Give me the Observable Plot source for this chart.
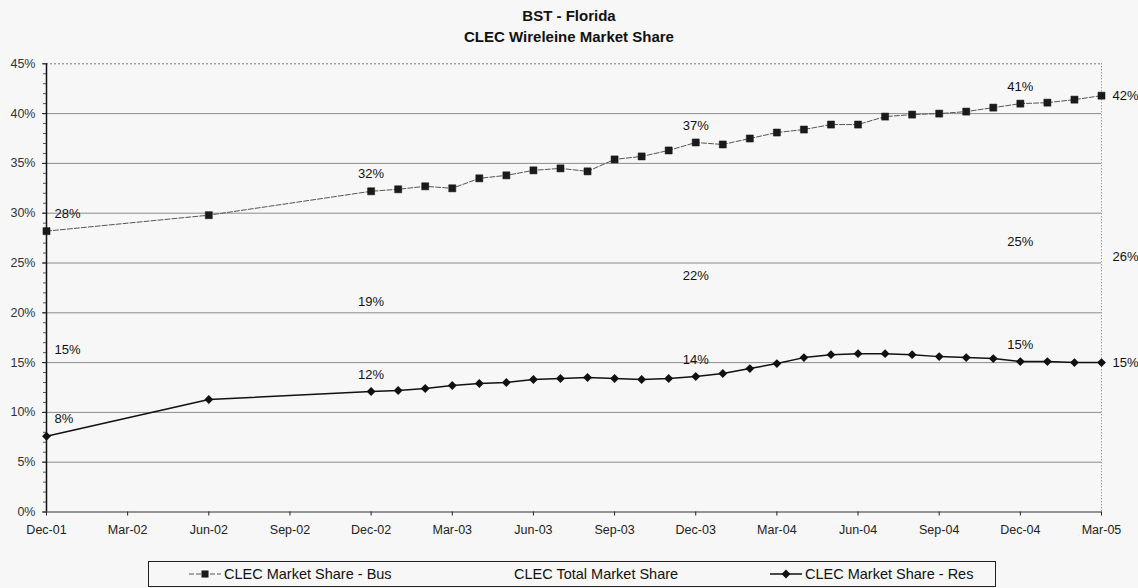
<!DOCTYPE html>
<html>
<head>
<meta charset="utf-8">
<script src="https://cdn.jsdelivr.net/npm/d3@7"></script>
<script src="https://cdn.jsdelivr.net/npm/@observablehq/plot@0.6"></script>
<style>
  html, body { margin: 0; padding: 0; background: #f7f7f7; }
  body { width: 1138px; height: 588px; position: relative; overflow: hidden; font-family: "Liberation Sans", Arial, sans-serif; color: #111; }
  #title { position: absolute; left: 0; top: 5px; width: 1138px; text-align: center; font-weight: bold; font-size: 15px; line-height: 21px; color: #111; }
  #chart { position: absolute; left: 0; top: 0; }
  #legend { position: absolute; left: 148px; top: 561px; width: 846px; height: 24px; border: 1px solid #222; font-size: 14.5px; line-height: 24px; color: #111; }
  #legend .item { position: absolute; top: 0; white-space: nowrap; }
  #legend svg { position: absolute; top: 6px; }
</style>
</head>
<body>
<div id="title">BST - Florida<br>CLEC Wireleine Market Share</div>
<div id="chart"></div>
<div id="legend"></div>
<script>
// ---- data (percent) ----
const months = ["Dec-01","Jun-02","Dec-02","Jan-03","Feb-03","Mar-03","Apr-03","May-03","Jun-03","Jul-03","Aug-03","Sep-03","Oct-03","Nov-03","Dec-03","Jan-04","Feb-04","Mar-04","Apr-04","May-04","Jun-04","Jul-04","Aug-04","Sep-04","Oct-04","Nov-04","Dec-04","Jan-05","Feb-05","Mar-05"];
const busShare = [28.2,29.8,32.2,32.4,32.7,32.5,33.5,33.8,34.3,34.5,34.2,35.4,35.7,36.3,37.1,36.9,37.5,38.1,38.4,38.9,38.9,39.7,39.9,40.0,40.2,40.6,41.0,41.1,41.4,41.8];
const resShare = [7.6,11.3,12.1,12.2,12.4,12.7,12.9,13.0,13.3,13.4,13.5,13.4,13.3,13.4,13.6,13.9,14.4,14.9,15.5,15.8,15.9,15.9,15.8,15.6,15.5,15.4,15.1,15.1,15.0,15.0];
const totalMonths = ["Dec-01","Dec-02","Dec-03","Dec-04","Mar-05"];
const totalShare = [14.6,19.4,22.0,25.4,25.6];
const labelAboveMonths = ["Dec-01","Dec-02","Dec-03","Dec-04"];
const labelRightMonth = "Mar-05";
const xTickLabels = ["Dec-01","Mar-02","Jun-02","Sep-02","Dec-02","Mar-03","Jun-03","Sep-03","Dec-03","Mar-04","Jun-04","Sep-04","Dec-04","Mar-05"];
const yTicks = [0,5,10,15,20,25,30,35,40,45];
const seriesNames = ["CLEC Market Share - Bus","CLEC Total Market Share","CLEC Market Share - Res"];

// ---- helpers ----
const parse = d3.utcParse("%b-%y");
const start = parse(months[0]);
const idx = s => d3.utcMonth.count(start, parse(s));
const tickLabelOf = new Map(xTickLabels.map(l => [idx(l), l]));
const lastIdx = idx(labelRightMonth);

const bus = months.map((m, i) => ({m, x: idx(m), v: busShare[i]}));
const res = months.map((m, i) => ({m, x: idx(m), v: resShare[i]}));
const tot = totalMonths.map((m, i) => ({m, x: idx(m), v: totalShare[i]}));
const all = [...bus, ...res, ...tot];
const pct = d => Math.round(d.v) + "%";
const firstLab = all.filter(d => d.m === months[0]);
const aboveLab = all.filter(d => labelAboveMonths.includes(d.m) && d.m !== months[0]);
const rightLab = all.filter(d => d.m === labelRightMonth);

const minorTicks = d3.range(0, 46, 1);
const font = "'Liberation Sans', Arial, sans-serif";

const chart = Plot.plot({
  width: 1138,
  height: 556,
  marginTop: 63.3,
  marginBottom: 44.5,
  marginLeft: 46,
  marginRight: 37,
  style: {background: "transparent", fontFamily: font, fontSize: "12.5px", color: "#222"},
  x: {type: "linear", domain: [0, lastIdx]},
  y: {domain: [0, 45]},
  marks: [
    Plot.gridY(yTicks.filter(d => d > 0 && d < 45), {stroke: "#8c8c8c", strokeOpacity: 1, strokeWidth: 1}),
    Plot.ruleY([45], {stroke: "#777", strokeDasharray: "2,2"}),
    Plot.ruleX([lastIdx], {stroke: "#777", strokeDasharray: "1,2"}),
    Plot.ruleY([0], {stroke: "#333", strokeWidth: 1.2}),
    Plot.ruleX([0], {stroke: "#111", strokeWidth: 1.5}),
    Plot.axisY({ticks: minorTicks, tickSize: 3, tickFormat: () => "", label: null, stroke: "#555"}),
    Plot.axisY({ticks: yTicks, tickSize: 4, tickPadding: 7, tickFormat: d => d + "%", label: null, fontSize: 12.5, fill: "#333"}),
    Plot.axisX({ticks: xTickLabels.map(idx), tickSize: 4, tickPadding: 9, tickFormat: i => tickLabelOf.get(i), label: null, fontSize: 12.5, fill: "#222"}),
    Plot.line(bus, {x: "x", y: "v", stroke: "#555", strokeWidth: 1, strokeDasharray: "5,2"}),
    Plot.dot(bus, {x: "x", y: "v", symbol: "square", r: 4, fill: "#1a1a1a", stroke: "#1a1a1a", strokeWidth: 0.5}),
    Plot.line(res, {x: "x", y: "v", stroke: "#111", strokeWidth: 1.5}),
    Plot.dot(res, {x: "x", y: "v", symbol: "diamond2", r: 4, fill: "#111"}),
    Plot.text(aboveLab, {x: "x", y: "v", text: pct, dy: -17, fontSize: 13, fill: "#111"}),
    Plot.text(firstLab, {x: "x", y: "v", text: pct, dy: -17, dx: 8, textAnchor: "start", fontSize: 13, fill: "#111"}),
    Plot.text(rightLab, {x: "x", y: "v", text: pct, dx: 11, textAnchor: "start", fontSize: 13, fill: "#111"})
  ]
});
document.getElementById("chart").appendChild(chart);

// ---- legend ----
const legend = document.getElementById("legend");
const legendItems = [
  {name: seriesNames[0], left: 40, kind: "bus"},
  {name: seriesNames[1], left: 330, kind: "none"},
  {name: seriesNames[2], left: 621, kind: "res"}
];
legendItems.forEach(it => {
  if (it.kind !== "none") {
    const s = d3.create("svg").attr("width", 34).attr("height", 12).style("left", it.left + "px");
    if (it.kind === "bus") {
      s.append("line").attr("x1", 0).attr("x2", 32).attr("y1", 6).attr("y2", 6).attr("stroke", "#555").attr("stroke-dasharray", "5,2");
      s.append("path").attr("d", d3.symbol(d3.symbolSquare, 50)()).attr("transform", "translate(16,6)").attr("fill", "#1a1a1a");
    } else {
      s.append("line").attr("x1", 0).attr("x2", 32).attr("y1", 6).attr("y2", 6).attr("stroke", "#111").attr("stroke-width", 1.5);
      s.append("path").attr("d", d3.symbol(d3.symbolDiamond2, 50)()).attr("transform", "translate(16,6)").attr("fill", "#111");
    }
    legend.appendChild(s.node());
  }
  const t = document.createElement("div");
  t.className = "item";
  t.style.left = (it.left + 35) + "px";
  t.textContent = it.name;
  legend.appendChild(t);
});
</script>
</body>
</html>
